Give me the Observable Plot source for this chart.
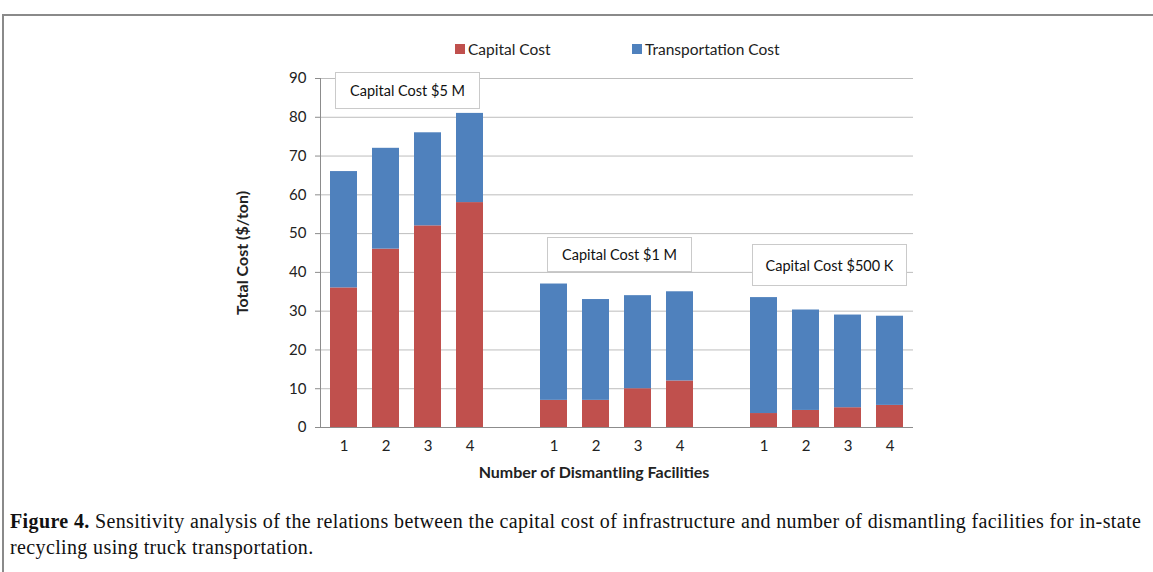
<!DOCTYPE html>
<html><head><meta charset="utf-8">
<script src="https://cdn.jsdelivr.net/npm/d3@7"></script>
<script src="https://cdn.jsdelivr.net/npm/@observablehq/plot@0.6"></script>
<style>
body{margin:0;background:#fff;width:1153px;height:572px;position:relative;overflow:hidden;font-family:Lato,"Open Sans",sans-serif;}
#frame{position:absolute;left:2px;top:14px;width:1200px;height:700px;border-left:2px solid #8a8a8a;border-top:2px solid #8a8a8a;}
#chart{position:absolute;left:0;top:0;}
.note{position:absolute;background:#fff;border:1px solid #cacaca;font-size:14.5px;color:#111;display:flex;align-items:center;justify-content:center;box-sizing:border-box;}
.leg{position:absolute;top:40px;font-size:15.5px;color:#222;display:flex;align-items:center;white-space:nowrap;}
.sw{display:inline-block;width:10px;height:10px;margin-right:3px;}
#caption{position:absolute;left:10px;top:508px;width:1150px;font-family:"Liberation Serif","DejaVu Serif",serif;font-size:20px;letter-spacing:0.37px;line-height:26px;color:#111;white-space:nowrap;}
</style></head>
<body>
<div id="frame"></div>
<div id="chart"></div>
<div class="leg" style="left:455px"><span class="sw" style="background:#C0504D"></span>Capital Cost</div>
<div class="leg" style="left:632px"><span class="sw" style="background:#4F81BD"></span>Transportation Cost</div>
<div class="note" style="left:335px;top:72px;width:145px;height:37px">Capital Cost $5 M</div>
<div class="note" style="left:547px;top:237px;width:145px;height:35px">Capital Cost $1 M</div>
<div class="note" style="left:752px;top:244px;width:155px;height:42px">Capital Cost $500 K</div>
<div id="caption"><b>Figure 4.</b> Sensitivity analysis of the relations between the capital cost of infrastructure and number of dismantling facilities for in-state<br>recycling using truck transportation.</div>
<script>
const groups = ["$5 M", "$1 M", "$500 K"];
const facilities = ["1", "2", "3", "4"];
const seriesNames = ["Capital Cost", "Transportation Cost"];
const capitalCost5M = [36, 46, 52, 58];
const transportCost5M = [30, 26, 24, 23];
const capitalCost1M = [7, 7, 10, 12];
const transportCost1M = [30, 26, 24, 23];
const capitalCost500K = [3.6, 4.4, 5.1, 5.7];
const transportCost500K = [29.9, 25.9, 23.9, 23.0];
const yTicks = [0, 10, 20, 30, 40, 50, 60, 70, 80, 90];

const capital = [capitalCost5M, capitalCost1M, capitalCost500K];
const transport = [transportCost5M, transportCost1M, transportCost500K];

const rows = [];
const xDomain = [];
const xTicks = [];
groups.forEach((g, gi) => {
  facilities.forEach((f, fi) => {
    const key = gi + "-" + f;
    xDomain.push(key); xTicks.push(key);
    rows.push({key, series: seriesNames[0], value: capital[gi][fi]});
    rows.push({key, series: seriesNames[1], value: transport[gi][fi]});
  });
  if (gi < groups.length - 1) xDomain.push("gap" + gi);
});

const chart = Plot.plot({
  width: 1153, height: 500,
  marginLeft: 320, marginRight: 240, marginTop: 78, marginBottom: 73,
  style: {fontFamily: "Lato, 'Open Sans', sans-serif", fontSize: "15px", color: "#222", background: "transparent"},
  x: {type: "band", domain: xDomain, paddingInner: 0.35, paddingOuter: 0.175, label: null},
  y: {domain: [0, 90], label: null},
  color: {domain: seriesNames, range: ["#C0504D", "#4F81BD"]},
  marks: [
    Plot.gridY(yTicks, {stroke: "#bdbdbd", strokeOpacity: 1}),
    Plot.barY(rows, {x: "key", y: "value", fill: "series"}),
    Plot.ruleY([0], {stroke: "#8c8c8c"}),
    Plot.frame({anchor: "left", stroke: "#8c8c8c"}),
    Plot.axisY({ticks: yTicks, tickSize: 5, tickPadding: 9, stroke: "#8c8c8c", label: null}),
    Plot.axisX({ticks: xTicks, tickSize: 0, tickPadding: 13, tickFormat: d => d.split("-")[1], label: null}),
    Plot.text(["Total Cost ($/ton)"], {text: d => d, frameAnchor: "left", dx: -78, rotate: -90, textAnchor: "middle", lineAnchor: "middle", fontWeight: "bold", fontSize: 16, fill: "#222"}),
    Plot.text(["Number of Dismantling Facilities"], {text: d => d, frameAnchor: "bottom", dx: -23, dy: 45, textAnchor: "middle", lineAnchor: "middle", fontWeight: "bold", fontSize: 16, fill: "#222"})
  ]
});
document.getElementById("chart").appendChild(chart);
</script>
</body></html>
